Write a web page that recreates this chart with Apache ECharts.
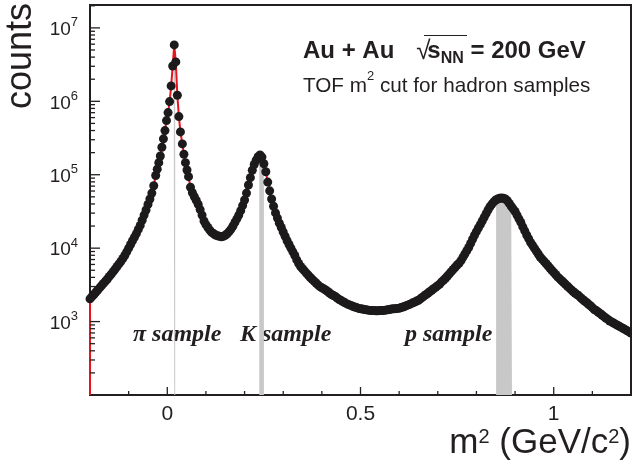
<!DOCTYPE html>
<html><head><meta charset="utf-8">
<script src="https://cdn.jsdelivr.net/npm/echarts@6/dist/echarts.min.js"></script>
<style>html,body{margin:0;padding:0;background:#fff}#chart{width:632px;height:465px}</style>
</head><body><div id="chart"></div>
<script>
// m^2 (GeV/c^2) bin positions
const mSq = [
  -0.2,-0.195,-0.19,-0.185,-0.18,-0.175,-0.17,-0.165,-0.16,-0.155,
  -0.15,-0.145,-0.14,-0.135,-0.13,-0.125,-0.12,-0.115,-0.11,-0.105,
  -0.1,-0.095,-0.09,-0.085,-0.08,-0.075,-0.07,-0.065,-0.06,-0.055,
  -0.05,-0.045,-0.04,-0.035,
  -0.03,-0.026,-0.022,-0.018,-0.014,-0.01,-0.006,-0.002,0.002,0.006,
  0.01,0.014,0.018,0.022,0.026,0.03,0.034,0.039,0.043,0.047,0.051,0.055,
  0.06,0.065,0.07,0.075,0.08,0.085,0.09,0.095,0.1,0.105,
  0.11,0.115,0.12,0.125,0.13,0.135,0.14,0.145,0.15,0.155,
  0.16,0.165,0.17,0.175,0.18,0.185,0.19,0.195,0.2,0.205,
  0.21,0.215,0.22,0.225,0.23,0.235,0.24,0.245,0.25,0.255,
  0.26,0.265,0.27,0.275,0.28,0.285,0.29,0.295,0.3,0.305,
  0.31,0.315,0.32,0.325,0.33,0.335,0.34,0.345,0.35,0.355,
  0.36,0.365,0.37,0.375,0.38,0.385,0.39,0.395,0.4,0.405,
  0.41,0.415,0.42,0.425,0.43,0.435,0.44,0.445,0.45,0.455,
  0.46,0.465,0.47,0.475,0.48,0.485,0.49,0.495,0.5,0.505,
  0.51,0.515,0.52,0.525,0.53,0.535,0.54,0.545,0.55,0.555,
  0.56,0.565,0.57,0.575,0.58,0.585,0.59,0.595,0.6,0.605,
  0.61,0.615,0.62,0.625,0.63,0.635,0.64,0.645,0.65,0.655,
  0.66,0.665,0.67,0.675,0.68,0.685,0.69,0.695,0.7,0.705,
  0.71,0.715,0.72,0.725,0.73,0.735,0.74,0.745,0.75,0.755,
  0.76,0.765,0.77,0.775,0.78,0.785,0.79,0.795,0.8,0.805,
  0.81,0.815,0.82,0.825,0.83,0.835,0.84,0.845,0.85,0.855,
  0.86,0.865,0.87,0.875,0.88,0.885,0.89,0.895,0.9,0.905,
  0.91,0.915,0.92,0.925,0.93,0.935,0.94,0.945,0.95,0.955,
  0.96,0.965,0.97,0.975,0.98,0.985,0.99,0.995,1.0,1.005,
  1.01,1.015,1.02,1.025,1.03,1.035,1.04,1.045,1.05,1.055,
  1.06,1.065,1.07,1.075,1.08,1.085,1.09,1.095,1.1,1.105,
  1.11,1.115,1.12,1.125,1.13,1.135,1.14,1.145,1.15,1.155,
  1.16,1.165,1.17,1.175,1.18,1.185,1.19,1.195,1.2
];
// counts per bin
const counts = [
  2040,2190,2340,2510,2690,2880,3090,3310,3550,3800,
  4120,4420,4790,5190,5620,6100,6610,7240,7940,8910,
  10000,11200,12600,14100,15800,18000,20400,24000,28200,33100,
  39400,46800,56200,70800,
  97700,119000,146000,180000,237000,308000,399000,546000,702000,991000,
  1620000,3030000,5860000,3440000,1210000,619000,383000,263000,190000,146000,116000,94200,
  67600,56900,50100,44700,39400,33500,28200,23400,20900,19100,
  17600,16400,15700,15100,14700,14500,14300,14500,15000,15700,
  16800,18200,20000,22400,25100,28200,32400,38000,45200,56200,
  72400,91200,115000,138000,158000,176000,186000,174000,141000,110000,
  79400,60300,46800,37200,30200,25700,21900,19100,16600,14500,
  12600,11200,10000,8910,7940,6920,6170,5620,5250,4900,
  4570,4270,3980,3760,3550,3350,3160,2990,2880,2790,
  2690,2570,2450,2340,2260,2190,2090,2000,1930,1860,
  1800,1740,1700,1660,1620,1580,1550,1510,1500,1480,
  1460,1450,1430,1420,1410,1410,1400,1400,1410,1410,
  1420,1430,1450,1460,1480,1490,1500,1510,1520,1550,
  1580,1620,1660,1700,1740,1800,1840,1910,1950,2040,
  2140,2240,2340,2450,2570,2690,2820,2950,3090,3240,
  3470,3670,3890,4170,4470,4790,5130,5500,5890,6240,
  6760,7500,8320,9230,10200,11600,13200,15000,16800,18800,
  20900,23400,26300,29500,33100,36700,39800,42700,45200,46800,
  47900,48200,47900,46800,44200,40700,37200,34300,31600,28200,
  25100,22400,19500,17200,15100,13500,12000,11000,10000,9120,
  8320,7590,7080,6610,6170,5750,5370,5010,4680,4370,
  4070,3850,3630,3430,3240,3050,2880,2720,2570,2450,
  2340,2240,2110,2000,1910,1820,1720,1640,1550,1460,
  1410,1350,1290,1230,1170,1120,1070,1020,989,955,
  923,891,861,832,804,776,750,724,700
];
// m^2 cut windows (GeV/c^2) for the hadron samples
const piCut = [0.0165, 0.0205];
const kCut = [0.238, 0.250];
const pCut = [0.851, 0.892];
// axis ticks
const xMajorTicks = [0, 0.5, 1];
const xMinorTicks = [-0.1, 0.1, 0.2, 0.3, 0.4, 0.6, 0.7, 0.8, 0.9, 1.1];
const yMajorTicks = [1e3, 1e4, 1e5, 1e6, 1e7];
const xRange = [-0.2, 1.2];
const yRange = [100, 2.05e7];

const yMinorTicks = [];
for (let d = 100; d <= 1e7; d *= 10) {
  for (let k = 2; k <= 9; k++) { const v = d * k; if (v <= yRange[1]) yMinorTicks.push(v); }
}

const INK = '#231f20';
const SANS = '"Liberation Sans", Arial, Helvetica, sans-serif';
const SERIF = '"Liberation Serif", "Times New Roman", serif';

const points = mSq.map((m, i) => [m, counts[i]]);
function nearestCount(v) {
  let bi = 0;
  for (let i = 1; i < mSq.length; i++) if (Math.abs(mSq[i] - v) < Math.abs(mSq[bi] - v)) bi = i;
  return counts[bi];
}
function bandData(cut) {
  const pts = [[cut[0], nearestCount(cut[0])]];
  mSq.forEach((m, i) => { if (m > cut[0] && m < cut[1]) pts.push([m, counts[i]]); });
  pts.push([cut[1], nearestCount(cut[1])]);
  return pts;
}
function bandSeries(cut) {
  return {
    type: 'line', data: bandData(cut), symbol: 'none', z: 1, silent: true,
    lineStyle: { width: 0 }, areaStyle: { color: '#c8c8c8', opacity: 1, origin: 'start' }
  };
}
// tick marks: [x, y, direction(0 = on x axis, 1 = on y axis), length]
const tickData = []
  .concat(xMajorTicks.map(v => [v, yRange[0], 0, 8]))
  .concat(xMinorTicks.map(v => [v, yRange[0], 0, 4]))
  .concat(yMajorTicks.map(v => [xRange[0], v, 1, 10]))
  .concat(yMinorTicks.map(v => [xRange[0], v, 1, 5]));

const chart = echarts.init(document.getElementById('chart'), null, { renderer: 'canvas' });
chart.setOption({
  animation: false,
  backgroundColor: '#ffffff',
  grid: { left: 90, right: 1, top: 5, bottom: 70, show: true, borderColor: INK, borderWidth: 2, backgroundColor: 'transparent' },
  xAxis: {
    type: 'value', min: xRange[0], max: xRange[1], position: 'bottom',
    axisLine: { show: false, onZero: false }, splitLine: { show: false }, axisTick: { show: false },
    axisLabel: { show: true, customValues: xMajorTicks, margin: 9, fontSize: 21, color: INK, fontFamily: SANS,
      formatter: v => String(v) }
  },
  yAxis: {
    type: 'log', logBase: 10, min: yRange[0], max: yRange[1], position: 'left',
    axisLine: { show: false, onZero: false }, splitLine: { show: false }, axisTick: { show: false },
    axisLabel: {
      show: true, customValues: yMajorTicks, margin: 12,
      formatter: v => {
        const e = Math.round(Math.log10(v));
        if (Math.abs(Math.log10(v) - e) > 1e-6 || e < 3) return '';
        return '{b|10}{e|' + e + '}';
      },
      rich: {
        b: { fontSize: 19, color: INK, fontFamily: SANS, padding: [4, 0, 0, 0] },
        e: { fontSize: 13, color: INK, fontFamily: SANS, padding: [0, 0, 10, 0] }
      }
    }
  },
  series: [
    bandSeries(piCut),
    bandSeries(kCut),
    bandSeries(pCut),
    {
      type: 'line', data: [[mSq[0], yRange[0]]].concat(points), symbol: 'none', z: 2, silent: true, clip: true,
      lineStyle: { color: '#e8141c', width: 2 }
    },
    {
      type: 'scatter', data: points, symbol: 'circle', symbolSize: 9, z: 3, silent: true,
      itemStyle: { color: '#1c1a1b', borderWidth: 0, opacity: 1 }
    },
    {
      type: 'custom', data: tickData, z: 4, silent: true, clip: false,
      encode: { x: 0, y: 1 },
      renderItem: (params, api) => {
        const p = api.coord([api.value(0), api.value(1)]);
        const len = api.value(3);
        const onY = api.value(2) === 1;
        return {
          type: 'line',
          shape: onY ? { x1: p[0], y1: p[1], x2: p[0] + len, y2: p[1] } : { x1: p[0], y1: p[1], x2: p[0], y2: p[1] - len },
          style: { stroke: INK, lineWidth: 1.3 }
        };
      }
    }
  ],
  graphic: [
    { type: 'text', x: 21, y: 3, rotation: Math.PI / 2, silent: true,
      style: { text: 'counts', fill: INK, font: '36px ' + SANS, align: 'right', verticalAlign: 'middle' } },
    { type: 'text', x: 303, y: 51.4, silent: true,
      style: {
        text: '{b|Au + Au}{g| }{r|√}{b|s}{n|NN}{b| = 200 GeV}',
        align: 'left', verticalAlign: 'middle',
        rich: {
          b: { fontSize: 24, fontWeight: 'bold', fontFamily: SANS, fill: INK },
          g: { fontSize: 24, fontFamily: SANS, width: 22 },
          r: { fontSize: 26, fontFamily: SANS, fill: INK, width: 11 },
          n: { fontSize: 16, fontWeight: 'bold', fontFamily: SANS, fill: INK, padding: [14, 0, 0, 0] }
        }
      } },
    { type: 'line', silent: true, shape: { x1: 424, y1: 35.5, x2: 467, y2: 35.5 }, style: { stroke: INK, lineWidth: 1.2 } },
    { type: 'text', x: 303, y: 86, silent: true,
      style: {
        text: '{t|TOF m}{s|2}{t| cut for hadron samples}',
        align: 'left', verticalAlign: 'middle',
        rich: {
          t: { fontSize: 20.7, fontFamily: SANS, fill: INK },
          s: { fontSize: 13, fontFamily: SANS, fill: INK, padding: [0, 0, 19, 0] }
        }
      } },
    { type: 'text', x: 631, y: 443, silent: true,
      style: {
        text: '{t|m}{s|2}{t| (GeV/c}{s|2}{t|)}',
        align: 'right', verticalAlign: 'middle',
        rich: {
          t: { fontSize: 35, fontFamily: SANS, fill: INK },
          s: { fontSize: 20, fontFamily: SANS, fill: INK, padding: [0, 0, 11, 0] }
        }
      } },
    { type: 'text', x: 133, y: 335, silent: true,
      style: { text: 'π sample', fill: INK, font: 'italic bold 24px ' + SERIF, align: 'left', verticalAlign: 'middle' } },
    { type: 'text', x: 240, y: 335, silent: true,
      style: { text: 'K sample', fill: INK, font: 'italic bold 24px ' + SERIF, align: 'left', verticalAlign: 'middle' } },
    { type: 'text', x: 405, y: 335, silent: true,
      style: { text: 'p sample', fill: INK, font: 'italic bold 24px ' + SERIF, align: 'left', verticalAlign: 'middle' } }
  ]
});
</script>
</body></html>
